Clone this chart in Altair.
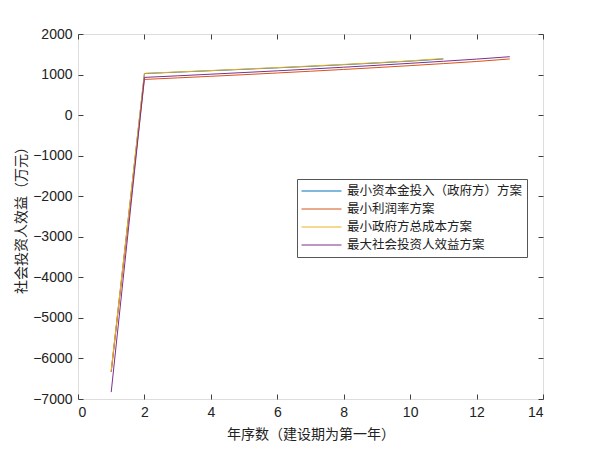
import altair as alt
import pandas as pd

series_names = ["最小资本金投入（政府方）方案", "最小利润率方案", "最小政府方总成本方案", "最大社会投资人效益方案"]
colors = ["#0072BD", "#D95319", "#EDB120", "#7E2F8E"]

years_a = [1, 2, 3, 4, 5, 6, 7, 8, 9, 10, 11]
years_b = [1, 2, 3, 4, 5, 6, 7, 8, 9, 10, 11, 12, 13]

blue_vals = [-6320, 1025, 1060, 1095, 1130, 1166, 1204, 1244, 1286, 1332, 1385]
red_vals = [-6330, 880, 918, 957, 997, 1039, 1082, 1126, 1172, 1220, 1270, 1322, 1385]
yellow_vals = [-6300, 1030, 1064, 1099, 1135, 1172, 1210, 1250, 1292, 1338, 1395]
purple_vals = [-6830, 930, 969, 1009, 1050, 1092, 1136, 1181, 1228, 1277, 1328, 1381, 1440]

rows = []
for name, xs, ys in [
    (series_names[0], years_a, blue_vals),
    (series_names[1], years_b, red_vals),
    (series_names[2], years_a, yellow_vals),
    (series_names[3], years_b, purple_vals),
]:
    for x, y in zip(xs, ys):
        rows.append({"year": x, "value": y, "series": name})
df = pd.DataFrame(rows)

x_ticks = [0, 2, 4, 6, 8, 10, 12, 14]
y_ticks = [-7000, -6000, -5000, -4000, -3000, -2000, -1000, 0, 1000, 2000]

W, H = 465, 365
AX = "#404040"
CJK = "Noto Sans CJK SC"
LAT = "Liberation Sans"

xscale = alt.Scale(domain=[0, 14], nice=False, zero=False)
yscale = alt.Scale(domain=[-7000, 2000], nice=False, zero=False)

main = alt.Chart(df).mark_line(strokeWidth=1).encode(
    x=alt.X("year:Q", scale=xscale,
            axis=alt.Axis(values=x_ticks, format="d", title="年序数（建设期为第一年）", ticks=False, domain=False,
                          grid=False, labelFont=LAT, labelFontSize=14, labelColor="#222",
                          labelPadding=6, titleFont=CJK, titleFontSize=14, titleFontWeight="normal",
                          titleColor="#222", titlePadding=8)),
    y=alt.Y("value:Q", scale=yscale,
            axis=alt.Axis(values=y_ticks, format="d", title="社会投资人效益（万元）", ticks=False, domain=False,
                          grid=False, labelFont=LAT, labelFontSize=14, labelColor="#222",
                          labelPadding=6, titleFont=CJK, titleFontSize=14, titleFontWeight="normal",
                          titleColor="#222", titlePadding=4)),
    color=alt.Color("series:N", sort=series_names,
                    scale=alt.Scale(domain=series_names, range=colors),
                    legend=alt.Legend(title=None, orient="none", legendX=219, legendY=145,
                                      symbolType="stroke", symbolSize=1600, symbolStrokeWidth=1,
                                      symbolOpacity=1,
                                      labelFont=CJK, labelFontSize=12.5, labelColor="#222",
                                      strokeColor="#555", padding=4, fillColor="white",
                                      rowPadding=2, clipHeight=16, labelLimit=400, labelOffset=5)),
    order=alt.value(0),
)

def tick_layer(xorient, yorient):
    return alt.Chart(df).mark_line(opacity=0).encode(
        x=alt.X("year:Q", scale=xscale,
                axis=alt.Axis(values=x_ticks, orient=xorient, offset=-H, labels=False, title=None,
                              domain=False, grid=False, tickColor=AX, tickSize=5)),
        y=alt.Y("value:Q", scale=yscale,
                axis=alt.Axis(values=y_ticks, orient=yorient, offset=-W, labels=False, title=None,
                              domain=False, grid=False, tickColor=AX, tickSize=5)),
        detail="series:N",
    )

chart = alt.layer(main, tick_layer("top", "right"), tick_layer("bottom", "left")).resolve_axis(
    x="independent", y="independent"
).properties(
    width=W, height=H,
    padding={"left": 70, "top": 26, "right": 40, "bottom": 51},
    autosize=alt.AutoSizeParams(type="none"),
).configure_view(stroke=AX, strokeWidth=1).configure(background="white")

chart.save("out.html", embed_options={"renderer": "svg", "actions": False})
